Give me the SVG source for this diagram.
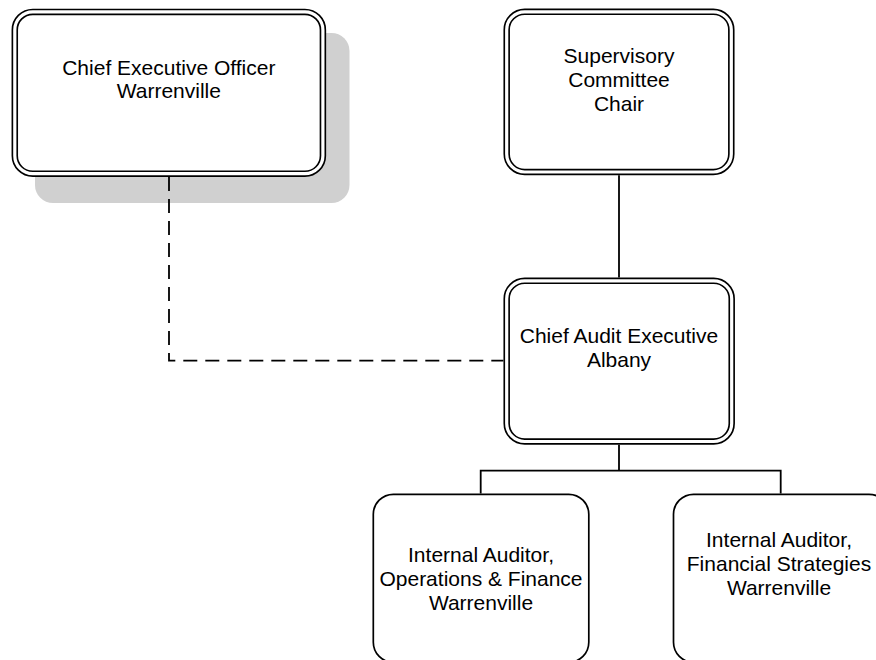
<svg xmlns="http://www.w3.org/2000/svg" width="876" height="660" viewBox="0 0 876 660">
<style>
.dbl-o{fill:#fff;stroke:#000;stroke-width:6.5}
.dbl-i{fill:none;stroke:#fff;stroke-width:3.2}
.box{fill:#fff;stroke:#000;stroke-width:1.7}
.shadow{fill:#d0d0d0}
.lbl{font-family:"Liberation Sans",Arial,sans-serif;font-size:21px;fill:#000;text-anchor:middle}
.conn{fill:none;stroke:#000;stroke-width:1.8}
.dash{stroke-dasharray:14 8}
</style>
<rect width="876" height="660" fill="#fff"/>
<g id="ceo">
<rect class="shadow" x="35" y="33" width="314.5" height="170" rx="18"/>
<rect class="dbl-o" x="14.8" y="11.9" width="308.1" height="161.8" rx="18"/>
<rect class="dbl-i" x="14.8" y="11.9" width="308.1" height="161.8" rx="18"/>
<text class="lbl" x="168.8"><tspan x="168.8" y="74.5">Chief Executive Officer</tspan><tspan x="168.8" y="98">Warrenville</tspan></text>
</g>
<g id="supervisory">
<rect class="dbl-o" x="506.7" y="11.8" width="224.6" height="160.2" rx="18"/>
<rect class="dbl-i" x="506.7" y="11.8" width="224.6" height="160.2" rx="18"/>
<text class="lbl"><tspan x="619" y="63.3">Supervisory</tspan><tspan x="619" y="87.3">Committee</tspan><tspan x="619" y="111.3">Chair</tspan></text>
</g>
<g id="cae">
<rect class="dbl-o" x="506.7" y="280.8" width="225" height="160.7" rx="18"/>
<rect class="dbl-i" x="506.7" y="280.8" width="225" height="160.7" rx="18"/>
<text class="lbl"><tspan x="619" y="342.7">Chief Audit Executive</tspan><tspan x="619" y="366.7">Albany</tspan></text>
</g>
<g id="ops">
<rect class="box" x="373.3" y="494.3" width="215.5" height="168" rx="20"/>
<text class="lbl"><tspan x="481" y="562.3">Internal Auditor,</tspan><tspan x="481" y="586.3">Operations &amp; Finance</tspan><tspan x="481" y="610.3">Warrenville</tspan></text>
</g>
<g id="fin">
<rect class="box" x="673.5" y="494.3" width="215.5" height="168" rx="20"/>
<text class="lbl"><tspan x="779" y="547.3">Internal Auditor,</tspan><tspan x="779" y="571.3">Financial Strategies</tspan><tspan x="779" y="595.3">Warrenville</tspan></text>
</g>
<g id="connectors">
<path class="conn" d="M619,175.3 V277.5"/>
<path class="conn" d="M619,444.8 V470.7 M480.7,493.4 V470.7 H780.7 V493.4"/>
<path class="conn dash" d="M169,177 V360.7 H503.4"/>
</g>
</svg>
